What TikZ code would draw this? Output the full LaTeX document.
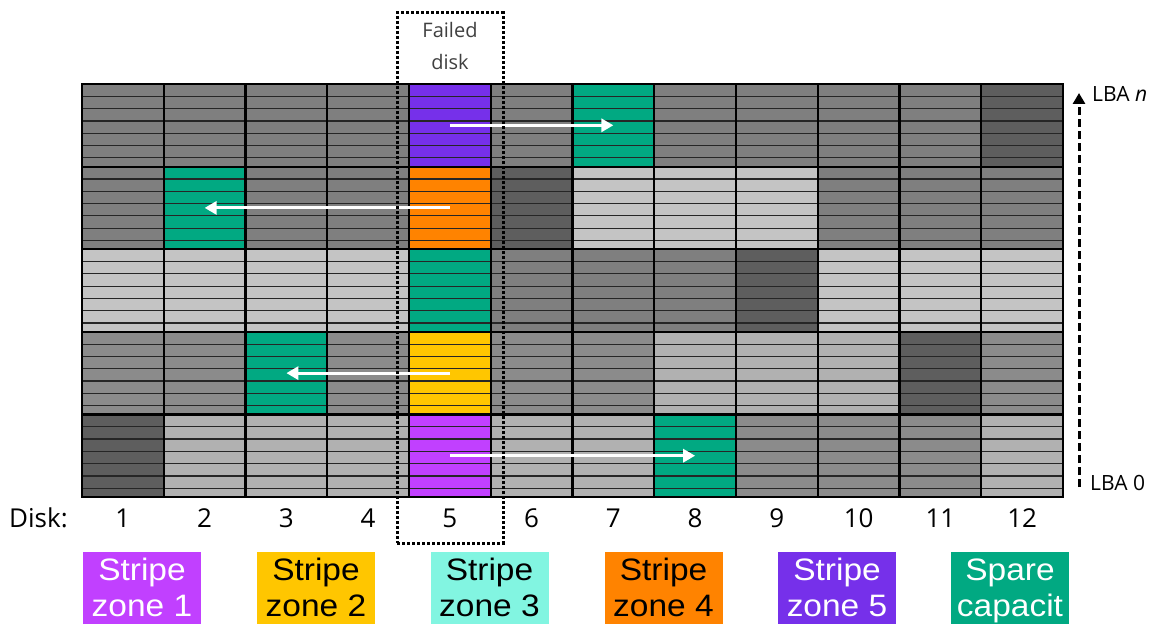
\documentclass[tikz,border=0pt]{standalone}
\usepackage{fontspec}
\setmainfont{Open Sans}
\newfontfamily\legendfont[FakeStretch=1.08]{Liberation Sans}
\usetikzlibrary{arrows.meta}

% grey shades of the occupied blocks
\definecolor{gM}{HTML}{7F7F7F}
\definecolor{gD}{HTML}{5E5E5E}
\definecolor{gL}{HTML}{C4C4C4}
\definecolor{gLM}{HTML}{B1B1B1}
\definecolor{gMM}{HTML}{8B8B8B}
% stripe zones and spare capacity
\definecolor{zoneA}{HTML}{C140FF}
\definecolor{zoneB}{HTML}{FFC600}
\definecolor{zoneC}{HTML}{82F5E1}
\definecolor{zoneD}{HTML}{FF8300}
\definecolor{zoneE}{HTML}{7630EA}
\definecolor{spare}{HTML}{01A982}
\definecolor{labelgrey}{HTML}{404040}

\tikzset{
  cell/.style={rectangle, draw=black, line width=2.2pt, inner sep=0pt, outer sep=0pt,
    minimum width=81.75pt, minimum height=82.6pt,
    path picture={\foreach \k in {1,...,6}
      \draw[black!85, line width=1.2pt]
        ([yshift=-\k*12.3pt]path picture bounding box.north west) --
        ([yshift=-\k*12.3pt]path picture bounding box.north east);}},
  move/.style={draw=white, line width=3pt, -{Triangle[length=12pt,width=13pt]}},
  failbox/.style={draw=black, line width=3pt, dash pattern=on 3pt off 2pt,
    rectangle, inner sep=0pt, minimum width=106pt, minimum height=530pt},
  disknum/.style={anchor=base, inner sep=0pt, font=\fontsize{26}{30}\selectfont},
  lbatext/.style={anchor=base west, inner sep=0pt, font=\fontsize{21}{25}\selectfont},
  legbox/.style={rectangle, inner sep=0pt, minimum width=118pt, minimum height=90pt, anchor=north},
  legtext/.style={anchor=base, inner sep=0pt, font=\legendfont\fontsize{31}{36}\selectfont},
}

\begin{document}
\begin{tikzpicture}[x=1pt,y=-1pt]
\clip (0,0) rectangle (1155,623);
\useasboundingbox (0,0) rectangle (1155,623);

% disk blocks: one row per LBA band, twelve disks per row
\foreach \r/\rowcols in {
  1/{gM,gM,gM,gM,zoneE,gM,spare,gM,gM,gM,gM,gD},
  2/{gM,spare,gM,gM,zoneD,gD,gL,gL,gL,gM,gM,gM},
  3/{gL,gL,gL,gL,spare,gM,gM,gM,gD,gL,gL,gL},
  4/{gMM,gMM,spare,gMM,zoneB,gMM,gMM,gLM,gLM,gLM,gD,gMM},
  5/{gD,gLM,gLM,gLM,zoneA,gLM,gLM,spare,gMM,gMM,gMM,gLM}} {
  \foreach \col [count=\c] in \rowcols {
    \node[cell, fill=\col] (c\r-\c) at ({82+(\c-0.5)*81.75},{84+(\r-0.5)*82.6}) {};
  }
}

% rebuild moves from the failed disk into spare capacity
\draw[move] (c1-5.center) -- (c1-7.center);
\draw[move] (c2-5.center) -- (c2-2.center);
\draw[move] (c4-5.center) -- (c4-3.center);
\draw[move] (c5-5.center) -- (c5-8.center);

% failed disk frame
\node[failbox] (failed) at (450,278) {};
\node[anchor=base, inner sep=0pt, text=labelgrey, font=\fontsize{20}{24}\selectfont] (failtxt1) at (450,38) {Failed};
\node[anchor=base, inner sep=0pt, text=labelgrey, font=\fontsize{20}{24}\selectfont] (failtxt2) at (450,70) {disk};

% disk numbers
\node[anchor=base west, inner sep=0pt, font=\fontsize{26}{30}\selectfont] (disklbl) at (9,527) {Disk:};
\foreach \c in {1,...,12} {
  \node[disknum] (n\c) at ({82+(\c-0.5)*81.75},527) {\c};
}

% LBA direction
\coordinate (lbalow) at (1079,487);
\coordinate (lbahigh) at (1079,93);
\draw[line width=3pt, dash pattern=on 8pt off 4pt, -{Triangle[length=11pt,width=12pt]}] (lbalow) -- (lbahigh);
\node[lbatext] (lban) at (1092,102) {LBA \textit{n}};
\node[lbatext] (lba0) at (1090,490) {LBA 0};

% legend
\node[legbox, fill=zoneA] (leg1) at (142,552) {};
\node[legbox, fill=zoneB] (leg2) at (316,552) {};
\node[legbox, fill=zoneC] (leg3) at (489.5,552) {};
\node[legbox, fill=zoneD] (leg4) at (663.5,552) {};
\node[legbox, fill=zoneE] (leg5) at (837,552) {};
\node[legbox, fill=spare] (leg6) at (1010,552) {};

\node[legtext, text=white] (leg1a) at (142,580) {Stripe};
\node[legtext, text=white] (leg1b) at (142,616) {zone 1};
\node[legtext, text=black] (leg2a) at (316,580) {Stripe};
\node[legtext, text=black] (leg2b) at (316,616) {zone 2};
\node[legtext, text=black] (leg3a) at (489.5,580) {Stripe};
\node[legtext, text=black] (leg3b) at (489.5,616) {zone 3};
\node[legtext, text=black] (leg4a) at (663.5,580) {Stripe};
\node[legtext, text=black] (leg4b) at (663.5,616) {zone 4};
\node[legtext, text=white] (leg5a) at (837,580) {Stripe};
\node[legtext, text=white] (leg5b) at (837,616) {zone 5};
\node[legtext, text=white] (leg6a) at (1010,580) {Spare};
\node[legtext, text=white] (leg6b) at (1010,616) {capacit};
\end{tikzpicture}
\end{document}
